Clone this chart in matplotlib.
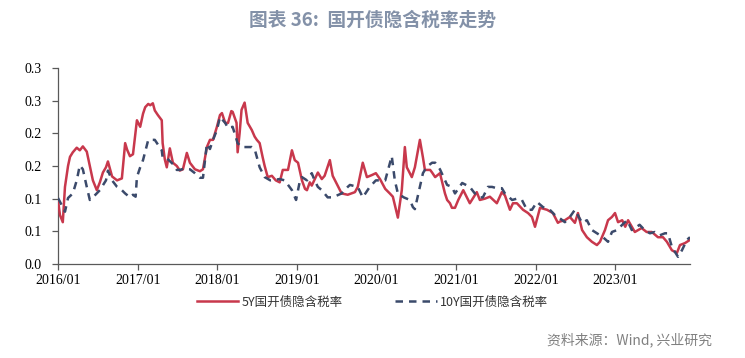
import matplotlib
matplotlib.use("Agg")
import matplotlib.pyplot as plt
import pandas as pd

plt.rcParams['font.family'] = ['Noto Sans CJK SC', 'DejaVu Sans']

title = "图表 36:  国开债隐含税率走势"
source = "资料来源：Wind, 兴业研究"
label_5y = "5Y国开债隐含税率"
label_10y = "10Y国开债隐含税率"

dates_5y = [
    "2016-01-01", "2016-01-10", "2016-01-23", "2016-02-02", "2016-02-16", "2016-02-25",
    "2016-03-09", "2016-03-27", "2016-04-10", "2016-04-24", "2016-05-12", "2016-05-26",
    "2016-06-09", "2016-06-27", "2016-07-11", "2016-07-25", "2016-08-08", "2016-08-17",
    "2016-09-05", "2016-09-28", "2016-10-20", "2016-11-04", "2016-11-13", "2016-11-26",
    "2016-12-10", "2016-12-28", "2017-01-12", "2017-01-25", "2017-02-04", "2017-02-18",
    "2017-02-27", "2017-03-11", "2017-03-20", "2017-04-03", "2017-04-21", "2017-04-25",
    "2017-05-05", "2017-05-14", "2017-05-28", "2017-06-11", "2017-06-29", "2017-07-13",
    "2017-07-27", "2017-08-14", "2017-08-28", "2017-09-20", "2017-10-13", "2017-10-27",
    "2017-11-14", "2017-11-28", "2017-12-12", "2017-12-30", "2018-01-13", "2018-01-22",
    "2018-02-06", "2018-02-19", "2018-03-06", "2018-03-12", "2018-03-30", "2018-04-04",
    "2018-04-13", "2018-04-22", "2018-05-06", "2018-05-20", "2018-06-08", "2018-06-21",
    "2018-07-01", "2018-07-14", "2018-07-28", "2018-08-06", "2018-08-20", "2018-09-08",
    "2018-09-26", "2018-10-14", "2018-10-28", "2018-11-21", "2018-12-09", "2018-12-22",
    "2019-01-06", "2019-01-24", "2019-02-07", "2019-02-16", "2019-03-01", "2019-03-10",
    "2019-04-07", "2019-04-25", "2019-05-08", "2019-06-01", "2019-06-14", "2019-07-07",
    "2019-07-25", "2019-08-22", "2019-09-24", "2019-10-07", "2019-10-30", "2019-11-18",
    "2019-12-10", "2019-12-29", "2020-01-17", "2020-02-10", "2020-03-02", "2020-03-16",
    "2020-04-08", "2020-04-26", "2020-05-10", "2020-05-19", "2020-06-11", "2020-06-25",
    "2020-07-18", "2020-08-01", "2020-08-10", "2020-09-03", "2020-09-12", "2020-09-26",
    "2020-10-18", "2020-11-10", "2020-11-20", "2020-12-03", "2020-12-12", "2020-12-26",
    "2021-01-10", "2021-02-02", "2021-03-04", "2021-04-05", "2021-04-19", "2021-05-12",
    "2021-06-04", "2021-07-06", "2021-07-29", "2021-08-12", "2021-09-04", "2021-09-18",
    "2021-10-06", "2021-11-03", "2021-11-26", "2021-12-14", "2021-12-28", "2022-01-20",
    "2022-02-21", "2022-03-20", "2022-04-12", "2022-04-21", "2022-05-14", "2022-06-06",
    "2022-06-29", "2022-07-13", "2022-08-01", "2022-08-23", "2022-09-15", "2022-10-08",
    "2022-10-22", "2022-11-14", "2022-11-28", "2022-12-16", "2022-12-30", "2023-01-13",
    "2023-02-01", "2023-02-15", "2023-02-28", "2023-03-31", "2023-05-01", "2023-05-24",
    "2023-06-17", "2023-07-15", "2023-08-07", "2023-08-25", "2023-09-17", "2023-10-10",
    "2023-10-24", "2023-11-16", "2023-12-09",
]
values_5y = [
    0.098, 0.075, 0.064, 0.118, 0.150, 0.164,
    0.171, 0.178, 0.174, 0.180, 0.172, 0.150,
    0.128, 0.113, 0.125, 0.140, 0.148, 0.157,
    0.134, 0.128, 0.131, 0.185, 0.175, 0.165,
    0.168, 0.220, 0.210, 0.230, 0.240, 0.245,
    0.243, 0.246, 0.235, 0.228, 0.220, 0.185,
    0.160, 0.148, 0.177, 0.155, 0.150, 0.143,
    0.145, 0.170, 0.155, 0.145, 0.142, 0.145,
    0.179, 0.190, 0.190, 0.210, 0.228, 0.231,
    0.216, 0.216, 0.234, 0.233, 0.216, 0.171,
    0.200, 0.236, 0.247, 0.216, 0.205, 0.195,
    0.190, 0.185, 0.163, 0.150, 0.133, 0.135,
    0.128, 0.125, 0.144, 0.144, 0.174, 0.159,
    0.155, 0.128, 0.115, 0.113, 0.125, 0.120,
    0.140, 0.130, 0.135, 0.159, 0.135, 0.120,
    0.108, 0.106, 0.110, 0.118, 0.155, 0.133,
    0.136, 0.139, 0.130, 0.115, 0.108, 0.103,
    0.071, 0.113, 0.179, 0.148, 0.133, 0.148,
    0.190, 0.163, 0.144, 0.144, 0.140, 0.133,
    0.139, 0.108, 0.098, 0.093, 0.086, 0.086,
    0.098, 0.113, 0.093, 0.110, 0.098, 0.100,
    0.103, 0.093, 0.110, 0.105, 0.083, 0.093,
    0.093, 0.083, 0.078, 0.072, 0.057, 0.086,
    0.083, 0.078, 0.063, 0.065, 0.067, 0.072,
    0.063, 0.078, 0.052, 0.041, 0.034, 0.029,
    0.034, 0.052, 0.067, 0.072, 0.078, 0.064,
    0.067, 0.057, 0.067, 0.049, 0.055, 0.049,
    0.049, 0.041, 0.041, 0.034, 0.021, 0.017,
    0.029, 0.032, 0.037,
]

dates_10y = [
    "2016-01-01", "2016-01-23", "2016-02-02", "2016-02-16", "2016-03-09", "2016-03-27",
    "2016-04-10", "2016-04-24", "2016-05-12", "2016-05-26", "2016-06-09", "2016-07-11",
    "2016-08-08", "2016-08-17", "2016-09-05", "2016-09-28", "2016-10-20", "2016-11-04",
    "2016-11-26", "2016-12-10", "2016-12-22", "2016-12-28", "2017-01-12", "2017-01-25",
    "2017-02-18", "2017-03-11", "2017-03-20", "2017-04-21", "2017-04-25", "2017-05-14",
    "2017-06-11", "2017-06-29", "2017-07-13", "2017-08-01", "2017-08-28", "2017-09-20",
    "2017-10-13", "2017-10-27", "2017-11-14", "2017-11-28", "2017-12-12", "2017-12-30",
    "2018-01-13", "2018-02-06", "2018-02-19", "2018-03-12", "2018-03-30", "2018-04-04",
    "2018-04-22", "2018-06-08", "2018-06-21", "2018-07-14", "2018-08-06", "2018-09-01",
    "2018-10-14", "2018-11-06", "2018-12-09", "2018-12-28", "2019-01-15", "2019-01-24",
    "2019-02-16", "2019-03-10", "2019-03-23", "2019-04-07", "2019-04-25", "2019-05-22",
    "2019-06-14", "2019-07-25", "2019-08-22", "2019-09-01", "2019-10-07", "2019-10-30",
    "2019-12-01", "2019-12-29", "2020-02-10", "2020-03-11", "2020-03-25", "2020-04-08",
    "2020-05-05", "2020-06-02", "2020-06-16", "2020-06-25", "2020-07-18", "2020-08-01",
    "2020-08-19", "2020-09-12", "2020-09-26", "2020-10-18", "2020-11-20", "2020-12-12",
    "2020-12-26", "2021-01-28", "2021-03-04", "2021-03-27", "2021-04-19", "2021-05-03",
    "2021-05-26", "2021-06-14", "2021-07-06", "2021-07-29", "2021-08-12", "2021-09-14",
    "2021-10-06", "2021-10-29", "2021-11-21", "2021-12-14", "2022-01-06", "2022-02-03",
    "2022-03-06", "2022-03-29", "2022-04-21", "2022-05-14", "2022-06-06", "2022-06-29",
    "2022-08-01", "2022-08-23", "2022-09-15", "2022-10-08", "2022-11-05", "2022-11-28",
    "2022-12-16", "2023-01-09", "2023-02-01", "2023-02-24", "2023-03-17", "2023-04-22",
    "2023-05-15", "2023-06-08", "2023-07-01", "2023-07-24", "2023-08-16", "2023-08-30",
    "2023-09-17", "2023-10-15", "2023-11-02", "2023-11-25", "2023-12-09",
]
values_10y = [
    0.101, 0.087, 0.080, 0.101, 0.108, 0.128,
    0.151, 0.145, 0.118, 0.098, 0.102, 0.113,
    0.128, 0.143, 0.128, 0.118, 0.113, 0.108,
    0.102, 0.106, 0.103, 0.133, 0.148, 0.159,
    0.190, 0.190, 0.190, 0.174, 0.163, 0.162,
    0.153, 0.144, 0.144, 0.146, 0.145, 0.139,
    0.132, 0.132, 0.184, 0.176, 0.190, 0.205,
    0.225, 0.216, 0.208, 0.210, 0.190, 0.185,
    0.179, 0.179, 0.176, 0.148, 0.133, 0.128,
    0.130, 0.128, 0.113, 0.098, 0.128, 0.133,
    0.128, 0.139, 0.128, 0.118, 0.113, 0.102,
    0.102, 0.108, 0.118, 0.121, 0.118, 0.102,
    0.118, 0.128, 0.128, 0.165, 0.128, 0.108,
    0.102, 0.098, 0.087, 0.084, 0.118, 0.139,
    0.149, 0.155, 0.155, 0.145, 0.121, 0.118,
    0.108, 0.124, 0.118, 0.108, 0.102, 0.102,
    0.118, 0.118, 0.116, 0.116, 0.108, 0.098,
    0.100, 0.098, 0.083, 0.083, 0.095, 0.087,
    0.083, 0.075, 0.070, 0.064, 0.072, 0.083,
    0.063, 0.067, 0.052, 0.047, 0.041, 0.034,
    0.049, 0.052, 0.060, 0.067, 0.052, 0.060,
    0.052, 0.047, 0.049, 0.044, 0.047, 0.047,
    0.026, 0.011, 0.021, 0.037, 0.041,
]

y_ticks = [0.0, 0.05, 0.10, 0.15, 0.20, 0.25, 0.30]
y_tick_labels = ["0.0", "0.1", "0.1", "0.2", "0.2", "0.3", "0.3"]
x_ticks = ["2016-01-01", "2017-01-01", "2018-01-01", "2019-01-01",
           "2020-01-01", "2021-01-01", "2022-01-01", "2023-01-01"]
x_tick_labels = ["2016/01", "2017/01", "2018/01", "2019/01",
                 "2020/01", "2021/01", "2022/01", "2023/01"]

RED = "#C8384C"
NAVY = "#3B4A6B"

fig = plt.figure(figsize=(7.45, 3.58), dpi=100)
ax = fig.add_axes([58 / 745, 1 - 264 / 358, (690 - 58) / 745, (264 - 68) / 358])

d5 = pd.to_datetime(dates_5y)
d10 = pd.to_datetime(dates_10y)
ax.plot(d5, values_5y, color=RED, lw=1.8, label=label_5y, zorder=3)
ax.plot(d10, values_10y, color=NAVY, lw=1.8, ls=(0, (3.0, 2.4)), label=label_10y, zorder=4)

ax.set_xlim(pd.Timestamp("2016-01-01"), pd.Timestamp("2023-12-09"))
ax.set_ylim(0, 0.30)
ax.set_yticks(y_ticks)
ax.set_yticklabels(y_tick_labels)
ax.set_xticks(pd.to_datetime(x_ticks))
ax.set_xticklabels(x_tick_labels)

for s in ["top", "right"]:
    ax.spines[s].set_visible(False)
for s in ["left", "bottom"]:
    ax.spines[s].set_color("#595959")
    ax.spines[s].set_linewidth(0.9)
ax.tick_params(axis="both", colors="#595959", length=4, width=0.9, labelcolor="black")
ax.tick_params(axis="y", pad=8)
ax.tick_params(axis="x", pad=3)
for lab in ax.get_xticklabels() + ax.get_yticklabels():
    lab.set_family(["Liberation Serif", "DejaVu Serif"])
    lab.set_fontsize(10)

fig.text(0.5, 1 - 20 / 358, title, ha="center", va="center", fontsize=13.5,
         fontweight="bold", color="#8391A8")

leg = fig.legend(loc="center", bbox_to_anchor=(0.5, 1 - 302 / 358), ncol=2, frameon=False,
                 fontsize=9, handlelength=3.3, columnspacing=4.2, handletextpad=0.3)
for t in leg.get_texts():
    t.set_color("#333333")

fig.text(712 / 745, 1 - 340 / 358, source, ha="right", va="center", fontsize=10,
         color="#808080")

fig.savefig("out.png", dpi=100)
